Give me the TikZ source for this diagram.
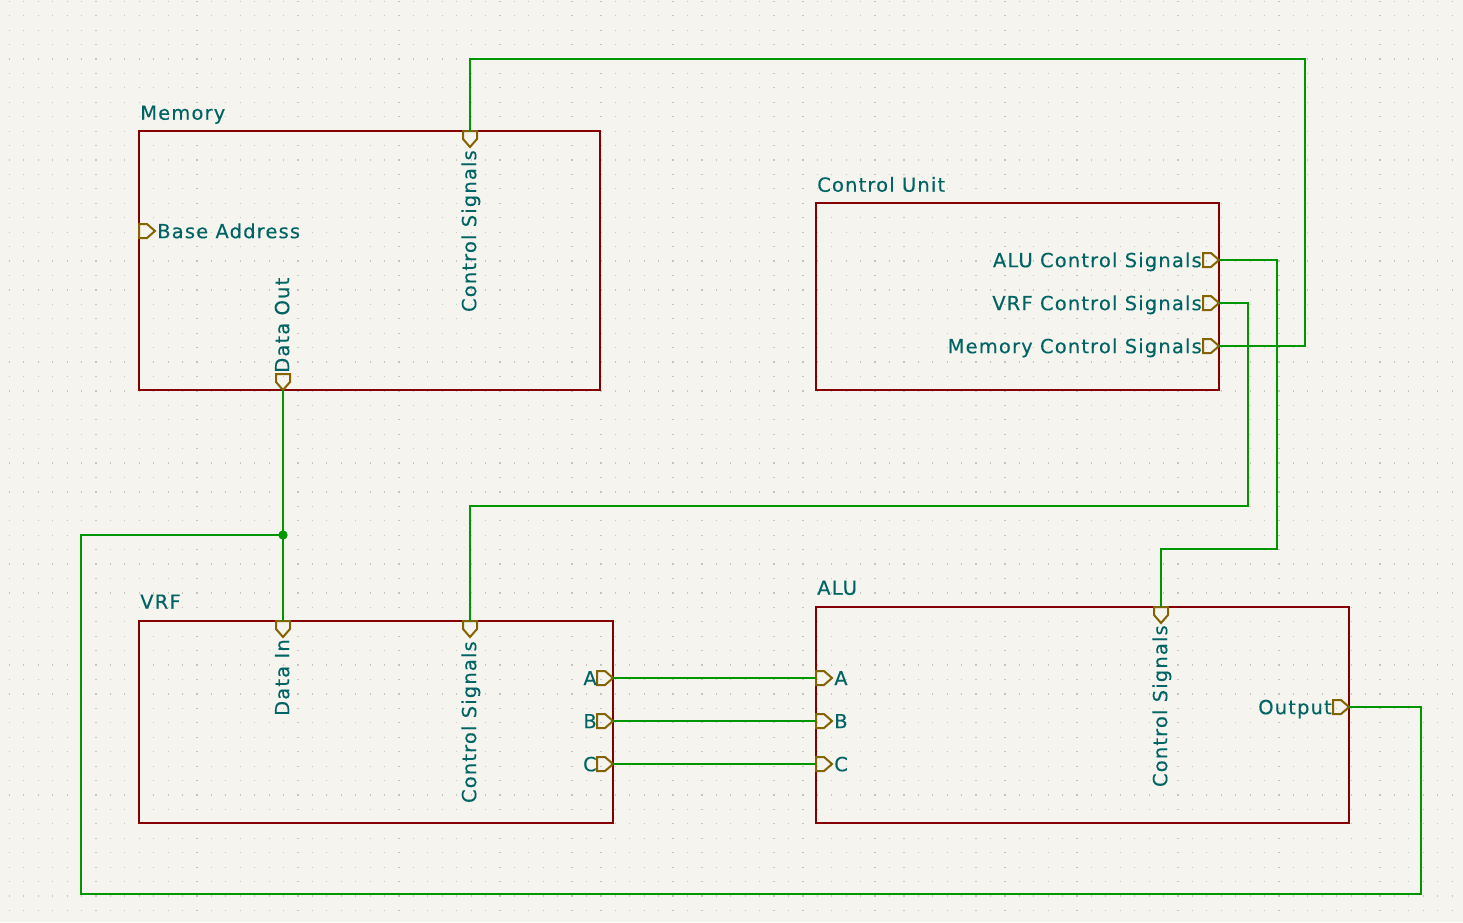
\documentclass[tikz,border=0pt]{standalone}
\usepackage{fontspec}
\setmainfont[LetterSpace=6,FakeBold=0.3]{DejaVu Sans}
\usepackage{tikz}

\definecolor{sheetbg}{HTML}{F5F4EF}
\definecolor{sheetred}{HTML}{840000}
\definecolor{labeltext}{HTML}{006464}
\definecolor{wiregreen}{HTML}{009600}
\definecolor{pinbrown}{HTML}{846400}
\definecolor{griddots}{HTML}{C4C4C0}

\begin{document}
\begin{tikzpicture}[x=0.75pt,y=-0.75pt,
    sheet/.style={draw=sheetred,line width=1.6pt},
    wire/.style={draw=wiregreen,line width=1.4pt},
    pin/.style={draw=pinbrown,line width=1.5pt,line join=miter},
    griddot/.style={draw=griddots,line width=0.9pt,dash pattern=on 0.9pt off 9.92pt},
    lbl/.style={text=labeltext,font=\fontsize{14.6}{16}\selectfont,
        inner sep=0pt,text height=10.8pt,text depth=0pt},
    pinR/.pic={\draw[pin] (-16,-7) -- (-8,-7) -- (0,0) -- (-8,7) -- (-16,7) -- cycle;},
    pinD/.pic={\draw[pin] (-7,-16) -- (7,-16) -- (7,-8) -- (0,0) -- (-7,-8) -- cycle;}]

  \useasboundingbox[fill=sheetbg] (0,0) rectangle (1463,922);
  \foreach \gy in {0,...,63}
    \draw[griddot] (8.85,1.3+\gy*14.43) -- (1463,1.3+\gy*14.43);

  % sheets
  \draw[sheet] (139,131) rectangle (600,390);
  \draw[sheet] (816,203) rectangle (1219,390);
  \draw[sheet] (139,621) rectangle (613,823);
  \draw[sheet] (816,607) rectangle (1349,823);

  \node[lbl,anchor=south west] (mem) at (140,120) {Memory};
  \node[lbl,anchor=south west] (cu)  at (817,192) {Control Unit};
  \node[lbl,anchor=south west] (vrf) at (140,609) {VRF};
  \node[lbl,anchor=south west] (alu) at (817,595) {ALU};

  % sheet pins
  \coordinate (mem_ctrl) at (470,131);
  \coordinate (mem_base) at (139,231);
  \coordinate (mem_data) at (283,390);
  \coordinate (cu_alu) at (1219,260);
  \coordinate (cu_vrf) at (1219,303);
  \coordinate (cu_mem) at (1219,346);
  \coordinate (vrf_data) at (283,621);
  \coordinate (vrf_ctrl) at (470,621);
  \coordinate (alu_ctrl) at (1161,607);
  \coordinate (alu_out) at (1349,707);
  \foreach \p/\y in {a/678,b/721,c/764} {
    \coordinate (vrf_\p) at (613,\y);
    \coordinate (alu_\p) at (816,\y);
  }

  \pic at (470,147) {pinD};
  \pic at (155,231) {pinR};
  \pic at (283,390) {pinD};
  \pic at (1219,260) {pinR};
  \pic at (1219,303) {pinR};
  \pic at (1219,346) {pinR};
  \pic at (283,637) {pinD};
  \pic at (470,637) {pinD};
  \pic at (1161,623) {pinD};
  \pic at (1349,707) {pinR};
  \foreach \y in {678,721,764} {
    \pic at (613,\y) {pinR};
    \pic at (832,\y) {pinR};
  }

  \node[lbl,anchor=east,rotate=90] (mem_ctrl_l) at (469,150) {Control Signals};
  \node[lbl,anchor=west] (mem_base_l) at (157,231) {Base Address};
  \node[lbl,anchor=west,rotate=90] (mem_data_l) at (282,373) {Data Out};
  \node[lbl,anchor=east] (cu_alu_l) at (1202,260) {ALU Control Signals};
  \node[lbl,anchor=east] (cu_vrf_l) at (1202,303) {VRF Control Signals};
  \node[lbl,anchor=east] (cu_mem_l) at (1202,346) {Memory Control Signals};
  \node[lbl,anchor=east,rotate=90] (vrf_data_l) at (282,639) {Data In};
  \node[lbl,anchor=east,rotate=90] (vrf_ctrl_l) at (469,641) {Control Signals};
  \node[lbl,anchor=east,rotate=90] (alu_ctrl_l) at (1160,625) {Control Signals};
  \node[lbl,anchor=east] (alu_out_l) at (1332,707) {Output};
  \foreach \p/\t/\y in {a/A/678,b/B/721,c/C/764} {
    \node[lbl,anchor=east] (vrf_\p_l) at (597,\y) {\t};
    \node[lbl,anchor=west] (alu_\p_l) at (834,\y) {\t};
  }

  % wires
  \draw[wire] (mem_ctrl) |- (1305,59) |- (cu_mem);
  \draw[wire] (cu_alu) -| (1277,549) -| (alu_ctrl);
  \draw[wire] (cu_vrf) -| (1248,506) -| (vrf_ctrl);
  \draw[wire] (mem_data) -- (vrf_data);
  \coordinate (tap) at (283,535);
  \draw[wire] (tap) -| (81,894) -| (1421,707) -- (alu_out);
  \foreach \p in {a,b,c}
    \draw[wire] (vrf_\p) -- (alu_\p);
  \fill[wiregreen] (tap) circle (3.5pt);

\end{tikzpicture}
\end{document}
